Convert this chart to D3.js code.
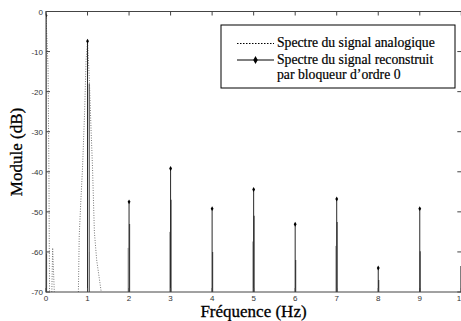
<!DOCTYPE html>
<html><head><meta charset="utf-8">
<script src="https://cdn.jsdelivr.net/npm/d3@7"></script>
<style>body{margin:0;background:#fff;overflow:hidden}</style>
</head><body>
<svg id="c" width="461" height="321"></svg>
<script>
// ---- data ----
const xTicks = [0,1,2,3,4,5,6,7,8,9,10];
const yTicks = [0,-10,-20,-30,-40,-50,-60,-70];
// reconstructed spectrum (zero-order hold): main peaks with markers
const harmonics = [0,1,2,3,4,5,6,7,8,9];
const peakDb = [-1, -7.4, -47.5, -39.2, -49.2, -44.4, -53.1, -46.8, -64, -49.2];
// neighbouring bins (grey lines under the peaks)
const secondFreq = [0, 1.03, 2, 3, 4, 5, 6, 7, 8, 9, 9.975];
const secondDb = [-60.4, -18, -53, -47, -60, -51, -62, -52.5, -67, -59.8, -63.5];
const thirdFreq = [1.07, 2, 3, 5, 7];
const thirdDb = [-60, -59, -55, -57.4, -58.5];
// analog spectrum (dotted), null = break
const analogFreq = [0, 0.05, 0.07, 0.085, null, 0.14, 0.16, 0.2, null,
  0.78, 0.80, 0.84, 0.88, 0.93, 0.965, 1.0, 1.04, 1.08, 1.12, 1.165, 1.22, 1.33];
const analogDb = [-1, -14, -40, -70, null, -70, -59, -70, null,
  -70, -56, -47, -39, -25, -12, -7.4, -16, -28, -39, -55, -62, -70];
const legendLabels = ["Spectre du signal analogique", "Spectre du signal reconstruit", "par bloqueur d\u2019ordre 0"];
const xLabel = "Fréquence (Hz)";
const yLabel = "Module (dB)";

// ---- layout ----
const svg = d3.select("#c");
const L = 46, R = 461.3, T = 11.5, B = 292;
const x = d3.scaleLinear().domain([0,10]).range([L,R]);
const y = d3.scaleLinear().domain([-70,0]).range([B,T]);

svg.append("defs").append("clipPath").attr("id","clip")
  .append("rect").attr("x",L).attr("y",T).attr("width",R-L).attr("height",B-T);

const plot = svg.append("g").attr("clip-path","url(#clip)");

// analog dotted
const pts = analogFreq.map((f,i)=> f==null ? null : [f, analogDb[i]]);
const line = d3.line().defined(d=>d!=null).x(d=>x(d[0])).y(d=>y(d[1]));
plot.append("path").attr("d", line(pts)).attr("fill","none")
  .attr("stroke","#777").attr("stroke-width",1).attr("stroke-dasharray","1,1.5");

// third (light) lines
plot.selectAll(".l3").data(thirdFreq).enter().append("line")
  .attr("x1",(f)=>x(f)-1).attr("x2",(f)=>x(f)-1)
  .attr("y1",y(-70)).attr("y2",(f,i)=>y(thirdDb[i]))
  .attr("stroke","#aaa").attr("stroke-width",1);
// second (grey) lines
plot.selectAll(".l2").data(secondFreq).enter().append("line")
  .attr("x1",(f)=>x(f)+0.5).attr("x2",(f)=>x(f)+0.5)
  .attr("y1",y(-70)).attr("y2",(f,i)=>y(secondDb[i]))
  .attr("stroke","#666").attr("stroke-width",1.2);
// main stems
plot.selectAll(".l1").data(harmonics).enter().append("line")
  .attr("x1",(f)=>x(f)).attr("x2",(f)=>x(f))
  .attr("y1",y(-70)).attr("y2",(f,i)=>y(peakDb[i]))
  .attr("stroke","#111").attr("stroke-width",0.9);
const diamond = d3.symbol().type(d3.symbolDiamond).size(7);
plot.selectAll(".mk").data(harmonics).enter().append("path")
  .attr("d", diamond)
  .attr("transform",(f,i)=>`translate(${x(f)},${y(peakDb[i])})`)
  .attr("fill","#000");

// frame & ticks
const ax = svg.append("g").attr("stroke","#444").attr("stroke-width",1);
ax.append("rect").attr("x",L).attr("y",T).attr("width",R-L+2).attr("height",B-T).attr("fill","none");
const tl = 4;
xTicks.forEach(t=>{
  ax.append("line").attr("x1",x(t)).attr("x2",x(t)).attr("y1",B).attr("y2",B-tl);
  ax.append("line").attr("x1",x(t)).attr("x2",x(t)).attr("y1",T).attr("y2",T+tl);
});
yTicks.forEach(t=>{
  ax.append("line").attr("x1",L).attr("x2",L+tl).attr("y1",y(t)).attr("y2",y(t));
  ax.append("line").attr("x1",R).attr("x2",R-tl).attr("y1",y(t)).attr("y2",y(t));
});
const tf = svg.append("g").attr("font-family","Liberation Sans, Arial, sans-serif")
  .attr("font-size","8px").attr("fill","#333");
xTicks.forEach(t=>{
  tf.append("text").attr("x",x(t)).attr("y",B+9).attr("text-anchor","middle").text(t);
});
yTicks.forEach(t=>{
  tf.append("text").attr("x",L-3).attr("y",y(t)+3).attr("text-anchor","end").text(t);
});

// axis labels
svg.append("text").attr("x",253.5).attr("y",317)
  .attr("font-family","Liberation Serif, Times New Roman, serif").attr("font-size","17px")
  .attr("text-anchor","middle").attr("fill","#000")
  .attr("stroke","#000").attr("stroke-width",0.3).text(xLabel);
svg.append("text").attr("transform","translate(22,152) rotate(-90)")
  .attr("font-family","Liberation Serif, Times New Roman, serif").attr("font-size","17px")
  .attr("text-anchor","middle").attr("fill","#000")
  .attr("stroke","#000").attr("stroke-width",0.3).text(yLabel);

// legend
const lg = svg.append("g");
lg.append("rect").attr("x",221).attr("y",25).attr("width",234).attr("height",63)
  .attr("fill","#fff").attr("stroke","#000").attr("stroke-width",1);
lg.append("line").attr("x1",237).attr("x2",274).attr("y1",43.5).attr("y2",43.5)
  .attr("stroke","#000").attr("stroke-dasharray","1.5,1.5");
lg.append("line").attr("x1",237).attr("x2",274).attr("y1",60).attr("y2",60)
  .attr("stroke","#000").attr("stroke-width",1);
lg.append("path").attr("d",d3.symbol().type(d3.symbolDiamond).size(18))
  .attr("transform","translate(255.5,60)").attr("fill","#000");
const lt = lg.append("g").attr("font-family","Liberation Serif, Times New Roman, serif")
  .attr("font-size","13.7px").attr("fill","#000")
  .attr("stroke","#000").attr("stroke-width",0.2);
[47,63.5,79].forEach((b,i)=> lt.append("text").attr("x",277).attr("y",b).text(legendLabels[i]));
</script>
</body></html>
